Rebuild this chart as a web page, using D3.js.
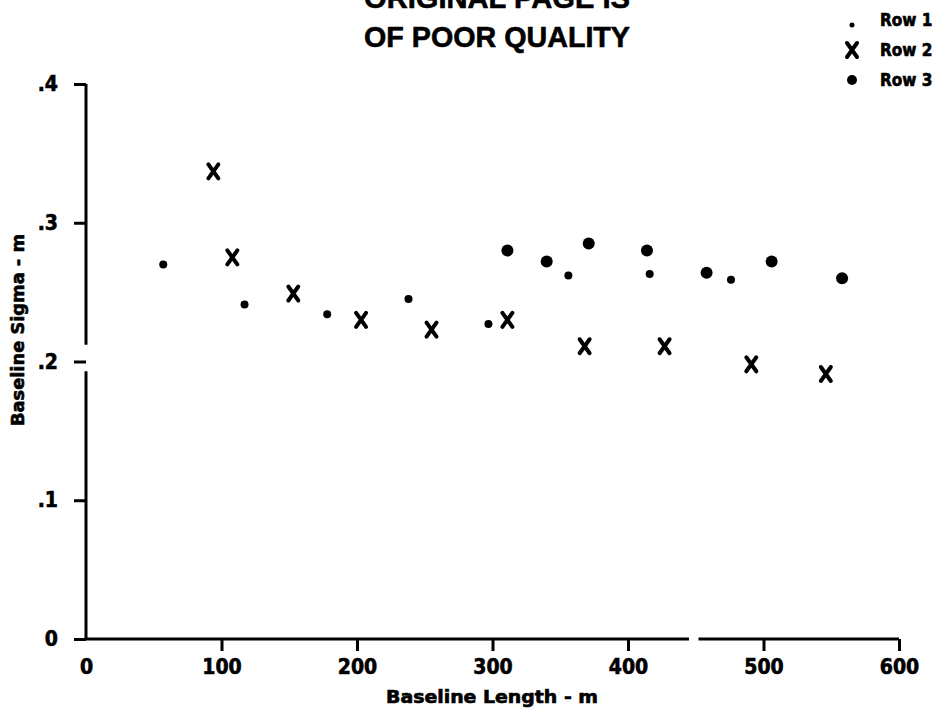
<!DOCTYPE html>
<html>
<head>
<meta charset="utf-8">
<script src="https://cdn.jsdelivr.net/npm/d3@7"></script>
<style>
  html, body { margin: 0; padding: 0; background: #fff; }
  svg { display: block; }
  .cond { font-family: "DejaVu Sans Condensed", "DejaVu Sans", sans-serif; font-stretch: condensed; font-weight: bold; stroke: #000; stroke-width: 0.6; }
</style>
</head>
<body>
<div id="chart"></div>
<script>
// ── Data ────────────────────────────────────────────────────────────────────
const row1X = [57, 117, 178, 238, 297, 356, 416, 476];
const row1Y = [0.270, 0.241, 0.234, 0.245, 0.227, 0.262, 0.263, 0.259];

const row2X = [94, 108, 153, 203, 255, 311, 368, 427, 491, 546];
const row2Y = [0.337, 0.275, 0.249, 0.230, 0.223, 0.230, 0.211, 0.211, 0.198, 0.191];

const row3X = [311, 340, 371, 414, 458, 506, 558];
const row3Y = [0.280, 0.272, 0.285, 0.280, 0.264, 0.272, 0.260];

const xTicks = [0, 100, 200, 300, 400, 500, 600];
const yTicks = [0, 0.1, 0.2, 0.3, 0.4];
const yTickLabels = ["0", ".1", ".2", ".3", ".4"];
const legendLabels = ["Row 1", "Row 2", "Row 3"];
const titleLines = ["ORIGINAL PAGE IS", "OF POOR QUALITY"];

// ── Layout ──────────────────────────────────────────────────────────────────
const width = 943, height = 714;
const x = d3.scaleLinear().domain([0, 600]).range([86, 899]);
const y = d3.scaleLinear().domain([0, 0.4]).range([639, 84]);

const svg = d3.select("#chart").append("svg")
  .attr("width", width).attr("height", height);

// ── Title (top line is cut off by the scan) ─────────────────────────────────
svg.selectAll("text.title")
  .data(titleLines)
  .join("text")
  .attr("class", "title")
  .attr("x", 497)
  .attr("y", (d, i) => 8 + i * 39)
  .attr("text-anchor", "middle")
  .attr("font-family", "Liberation Sans, Arial, sans-serif")
  .attr("font-weight", "bold")
  .attr("font-size", 30)
  .attr("stroke", "#000").attr("stroke-width", 0.6)
  .attr("textLength", 266)
  .attr("lengthAdjust", "spacingAndGlyphs")
  .text(d => d);

// ── Axes ────────────────────────────────────────────────────────────────────
const xAxis = svg.append("g")
  .attr("transform", `translate(0,${y(0)})`)
  .call(d3.axisBottom(x).tickValues(xTicks).tickSize(12).tickPadding(8).tickFormat(d3.format("d")));

const yAxis = svg.append("g")
  .attr("transform", `translate(${x(0)},0)`)
  .call(d3.axisLeft(y).tickValues(yTicks).tickSize(12).tickPadding(16)
    .tickFormat((d, i) => yTickLabels[i]));

[xAxis, yAxis].forEach(g => {
  g.select(".domain").remove();
  g.selectAll(".tick line").attr("stroke", "#000").attr("stroke-width", 3);
  g.selectAll(".tick text")
    .attr("class", "cond")
    .attr("font-size", 21)
    .attr("fill", "#000");
});
xAxis.select(".tick line").remove(); // no tick below the origin

// axis lines, with the small breaks seen in the scan
const yBreak = [0.193, 0.212];
const xBreak = [445, 452];
const axisSegs = [
  [[x(0), y(0.4)], [x(0), y(yBreak[1])]],
  [[x(0), y(yBreak[0])], [x(0), y(0)], [x(xBreak[0]), y(0)]],
  [[x(xBreak[1]), y(0)], [x(600), y(0)]]
];
svg.selectAll("path.axis-line")
  .data(axisSegs)
  .join("path")
  .attr("class", "axis-line")
  .attr("d", d3.line())
  .attr("fill", "none")
  .attr("stroke", "#000")
  .attr("stroke-width", 3)
  .attr("stroke-linejoin", "round");

// axis titles
svg.append("text")
  .attr("class", "cond")
  .attr("x", 492).attr("y", 703)
  .attr("text-anchor", "middle")
  .attr("font-size", 18)
  .attr("textLength", 212)
  .attr("lengthAdjust", "spacingAndGlyphs")
  .text("Baseline Length - m");

svg.append("text")
  .attr("class", "cond")
  .attr("transform", "translate(24,330) rotate(-90)")
  .attr("text-anchor", "middle")
  .attr("font-size", 18)
  .attr("textLength", 192)
  .attr("lengthAdjust", "spacingAndGlyphs")
  .text("Baseline Sigma - m");

// ── Markers ─────────────────────────────────────────────────────────────────
function xMark(sel) {
  sel.attr("d", "M-5,-7L5,7M5,-7L-5,7")
    .attr("fill", "none")
    .attr("stroke", "#000")
    .attr("stroke-width", 4)
    .attr("stroke-linecap", "round");
}

const row1 = row1X.map((v, i) => [v, row1Y[i]]);
const row2 = row2X.map((v, i) => [v, row2Y[i]]);
const row3 = row3X.map((v, i) => [v, row3Y[i]]);

svg.selectAll("circle.r1")
  .data(row1)
  .join("circle")
  .attr("class", "r1")
  .attr("cx", d => x(d[0])).attr("cy", d => y(d[1]))
  .attr("r", 4);

svg.selectAll("circle.r3")
  .data(row3)
  .join("circle")
  .attr("class", "r3")
  .attr("cx", d => x(d[0])).attr("cy", d => y(d[1]))
  .attr("r", 6);

svg.selectAll("path.r2")
  .data(row2)
  .join("path")
  .attr("class", "r2")
  .attr("transform", d => `translate(${x(d[0])},${y(d[1])})`)
  .call(xMark);

// ── Legend ──────────────────────────────────────────────────────────────────
const legend = svg.append("g");
const legendY = [20, 50, 80];

legend.selectAll("text")
  .data(legendLabels)
  .join("text")
  .attr("class", "cond")
  .attr("x", 880)
  .attr("y", (d, i) => legendY[i] + 6)
  .attr("font-size", 17)
  .text(d => d);

legend.append("circle").attr("cx", 852).attr("cy", legendY[0] + 5).attr("r", 2.5);
legend.append("path").attr("transform", `translate(852,${legendY[1]})`).call(xMark);
legend.append("circle").attr("cx", 852).attr("cy", legendY[2]).attr("r", 5);
</script>
</body>
</html>
